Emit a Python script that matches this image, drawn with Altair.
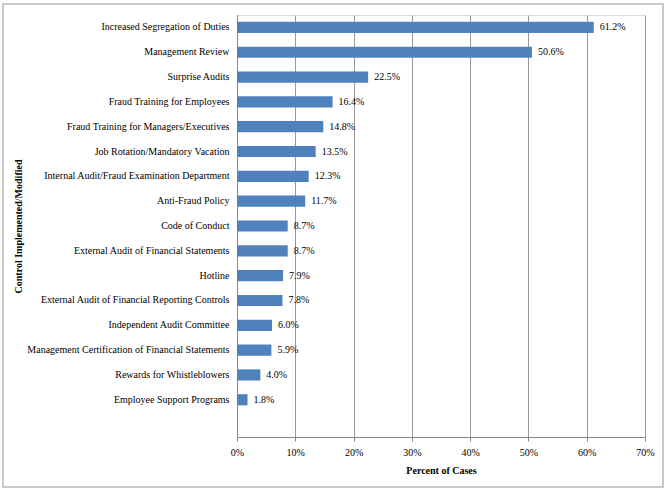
import altair as alt
import pandas as pd

categories = [
    "Increased Segregation of Duties",
    "Management Review",
    "Surprise Audits",
    "Fraud Training for Employees",
    "Fraud Training for Managers/Executives",
    "Job Rotation/Mandatory Vacation",
    "Internal Audit/Fraud Examination Department",
    "Anti-Fraud Policy",
    "Code of Conduct",
    "External Audit of Financial Statements",
    "Hotline",
    "External Audit of Financial Reporting  Controls",
    "Independent Audit Committee",
    "Management Certification of Financial Statements",
    "Rewards for Whistleblowers",
    "Employee Support Programs",
]
values = [61.2, 50.6, 22.5, 16.4, 14.8, 13.5, 12.3, 11.7, 8.7, 8.7, 7.9, 7.8, 6.0, 5.9, 4.0, 1.8]

df = pd.DataFrame({"control": categories, "pct": [v / 100 for v in values]})

FONT = "Liberation Serif, Times New Roman, serif"
domain = categories + [" "]

y_enc = alt.Y(
    "control:N",
    sort=domain,
    scale=alt.Scale(domain=domain, paddingInner=0.55, paddingOuter=0.275),
    axis=alt.Axis(
        title="Control Implemented/Modified",
        titleFont=FONT, titleFontSize=10, titleFontWeight="bold", titleColor="black",
        titleX=-214,
        labelFont=FONT, labelFontSize=10, labelColor="black", labelPadding=8,
        ticks=False, domain=True, domainColor="#888888", labelLimit=400,
    ),
)
x_enc = alt.X(
    "pct:Q",
    scale=alt.Scale(domain=[0, 0.7], nice=False),
    axis=alt.Axis(
        title="Percent of Cases", format=".0%", values=[0, .1, .2, .3, .4, .5, .6, .7],
        titleFont=FONT, titleFontSize=10, titleFontWeight="bold", titleColor="black",
        titlePadding=8, labelFlush=False,
        labelFont=FONT, labelFontSize=10, labelColor="black", labelPadding=6,
        grid=True, gridColor="#999999", domainColor="#888888",
        tickColor="#888888", tickSize=4,
    ),
)

bars = alt.Chart(df).mark_bar(color="#4F81BD").encode(x=x_enc, y=y_enc)
text = alt.Chart(df).mark_text(
    align="left", baseline="middle", dx=6, font=FONT, fontSize=10, color="black"
).encode(
    x="pct:Q", y=alt.Y("control:N", sort=domain),
    text=alt.Text("pct:Q", format=".1%"),
)
frame = alt.Chart(df).mark_rect(
    fill=None, stroke="#C8C8C8", strokeWidth=2, clip=False
).encode(
    x=alt.value(-234), x2=alt.value(426), y=alt.value(-11), y2=alt.value(472)
)

chart = alt.layer(bars, text, frame).properties(
    width=408, height=422,
    autosize=alt.AutoSizeParams(type="none"),
    padding={"left": 237, "top": 15, "right": 25, "bottom": 53},
).configure_view(stroke=None).configure(background="white")

chart.save("out.html", embed_options={"renderer": "svg", "actions": False})
